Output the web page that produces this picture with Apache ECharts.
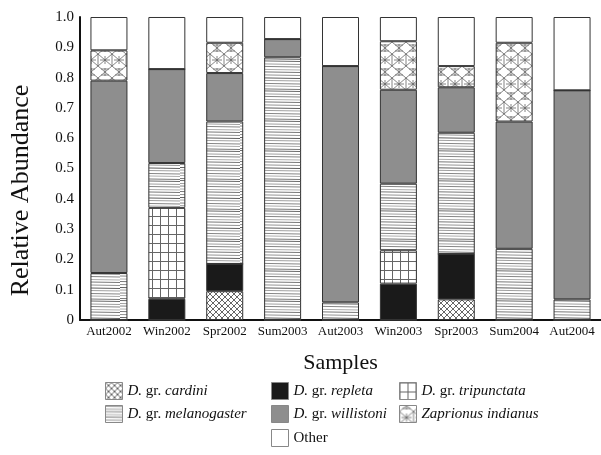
<!DOCTYPE html>
<html><head><meta charset="utf-8">
<script src="https://cdn.jsdelivr.net/npm/echarts@6/dist/echarts.min.js"></script>
<style>html,body{margin:0;padding:0;background:#fff}#c{width:601px;height:455px}</style>
</head><body><div id="c"></div>
<script>
const categories = ['Aut2002','Win2002','Spr2002','Sum2003','Aut2003','Win2003','Spr2003','Sum2004','Aut2004'];
const yTicks = [0,0.1,0.2,0.3,0.4,0.5,0.6,0.7,0.8,0.9,1.0];
const cardini =      [0,    0,    0.095,0,    0,    0,    0.068,0,    0];
const repleta =      [0,    0.07, 0.09, 0,    0,    0.12, 0.15, 0,    0];
const tripunctata =  [0,    0.30, 0,    0,    0,    0.11, 0,    0,    0];
const melanogaster = [0.155,0.148,0.47, 0.867,0.058,0.22, 0.40, 0.235,0.068];
const willistoni =   [0.635,0.31, 0.16, 0.06, 0.78, 0.31, 0.15, 0.42, 0.69];
const zaprionus =    [0.10, 0,    0.10, 0,    0,    0.16, 0.07, 0.26, 0];
const other =        [0.11, 0.172,0.085,0.073,0.162,0.08, 0.162,0.085,0.242];
const seriesNames = ['D. gr. cardini','D. gr. repleta','D. gr. tripunctata','D. gr. melanogaster','D. gr. willistoni','Zaprionus indianus','Other'];

function mk(w,h,draw){const c=document.createElement('canvas');c.width=w;c.height=h;const g=c.getContext('2d');g.fillStyle='#fff';g.fillRect(0,0,w,h);draw(g,w,h);return {image:c,repeat:'repeat'};}
const patCardini = mk(6,6,(g,w,h)=>{g.strokeStyle='#555';g.lineWidth=0.9;g.beginPath();
  g.moveTo(-1,-1);g.lineTo(w+1,h+1);g.moveTo(w+1,-1);g.lineTo(-1,h+1);g.stroke();});
const patTrip = mk(8,9,(g,w,h)=>{g.strokeStyle='#666';g.lineWidth=1;g.beginPath();
  g.moveTo(0.5,0);g.lineTo(0.5,h);g.moveTo(0,0.5);g.lineTo(w,0.5);g.stroke();});
const patMelano = mk(60,30,(g,w,h)=>{const ys=[0,3,5.5,8.5,11,14,17,19.5,22.5,25,28];
  const cols=['#444','#888','#666','#999','#555','#777','#333','#888','#666','#999','#555'];
  ys.forEach((y,i)=>{g.strokeStyle=cols[i];g.lineWidth=0.8;g.beginPath();g.moveTo(0,y+0.5);g.lineTo(w,y+1.5);g.stroke();
    g.beginPath();g.moveTo(0,y+0.5-h);g.lineTo(w,y+1.5-h);g.stroke();g.beginPath();g.moveTo(0,y+0.5+h);g.lineTo(w,y+1.5+h);g.stroke();});});
const patZap = mk(14,24,(g,w,h)=>{g.strokeStyle='#666';g.lineWidth=0.8;g.beginPath();
  g.moveTo(0,6);g.lineTo(7,0);g.lineTo(14,6);
  g.moveTo(0,6);g.lineTo(7,12);g.lineTo(14,6);
  g.moveTo(0,18);g.lineTo(7,12);g.lineTo(14,18);
  g.moveTo(0,18);g.lineTo(7,24);g.lineTo(14,18);
  g.moveTo(7,0);g.lineTo(7,4);g.moveTo(7,8);g.lineTo(7,16);g.moveTo(7,20);g.lineTo(7,24);
  g.moveTo(0,6);g.lineTo(0,18);g.moveTo(14,6);g.lineTo(14,18);
  g.moveTo(2,12);g.lineTo(12,12);
  g.moveTo(3,3);g.lineTo(11,3);g.moveTo(3,21);g.lineTo(11,21);
  g.stroke();});
const fills = [patCardini,'#1a1a1a',patTrip,patMelano,'#8e8e8e',patZap,'#ffffff'];
const dataSets = [cardini,repleta,tripunctata,melanogaster,willistoni,zaprionus,other];

const FONT = '"Liberation Serif","Times New Roman",serif';
function legendFmt(name){
  if(name.indexOf('D. gr. ')===0) return '{i|D.} {n|gr.} {i|'+name.slice(7)+'}';
  if(name==='Other') return '{n|Other}';
  return '{i|'+name+'}';
}
const legendText = {fontFamily:FONT,fontSize:15,color:'#111',rich:{i:{fontFamily:FONT,fontSize:15,fontStyle:'italic',color:'#111'},n:{fontFamily:FONT,fontSize:15,color:'#111'}}};
function leg(left,top,names){return {left:left,top:top,orient:'vertical',itemWidth:17,itemHeight:17,itemGap:5,
  data:names,formatter:legendFmt,textStyle:legendText,selectedMode:false,icon:'rect',
  itemStyle:{borderColor:'#888',borderWidth:1}};}

const chart = echarts.init(document.getElementById('c'),null,{renderer:'canvas'});
chart.setOption({
  animation:false,
  backgroundColor:'#fff',
  grid:{left:80,top:17,width:524,height:303,containLabel:false},
  legend:[leg(100,377,[seriesNames[0],seriesNames[3]]),leg(266,377,[seriesNames[1],seriesNames[4]]),leg(266,424,[seriesNames[6]]),leg(394,377,[seriesNames[2],seriesNames[5]])],
  xAxis:{type:'category',data:categories,
    axisLine:{lineStyle:{color:'#111',width:2}},axisTick:{show:false},
    axisLabel:{fontFamily:FONT,fontSize:13,color:'#111',margin:5,interval:0},
    name:'Samples',nameLocation:'middle',nameGap:32,nameTextStyle:{fontFamily:FONT,fontSize:22,color:'#111'}},
  yAxis:{type:'value',min:0,max:1,interval:0.1,
    axisLine:{show:true,lineStyle:{color:'#111',width:2}},axisTick:{show:false},splitLine:{show:false},
    axisLabel:{fontFamily:FONT,fontSize:15,color:'#111',margin:6,formatter:v=>{const t=yTicks.find(x=>Math.abs(x-v)<1e-6);return t===0?'0':(t!==undefined?t.toFixed(1):'');}},
    name:'Relative Abundance',nameLocation:'middle',nameGap:46,nameTextStyle:{fontFamily:FONT,fontSize:26,color:'#111',padding:[0,44,0,0]}},
  series:seriesNames.map((n,i)=>({name:n,type:'bar',stack:'all',barWidth:37,data:dataSets[i],
    itemStyle:{color:fills[i],borderColor:'#333',borderWidth:1}}))
});
</script></body></html>
